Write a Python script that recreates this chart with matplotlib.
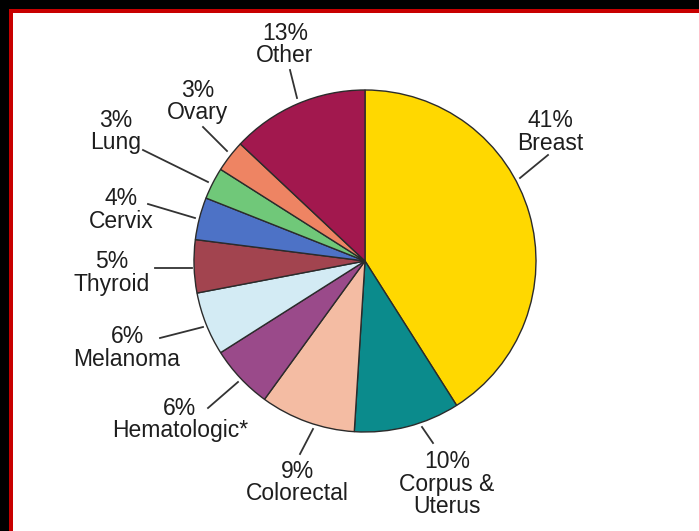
import matplotlib
matplotlib.use("Agg")
import matplotlib.pyplot as plt
from matplotlib.patches import Rectangle

# ---- data ----
categories = ["Breast", "Corpus &\nUterus", "Colorectal", "Hematologic*", "Melanoma",
              "Thyroid", "Cervix", "Lung", "Ovary", "Other"]
percents = [41, 10, 9, 6, 6, 5, 4, 3, 3, 13]
colors = ["#FFD800", "#0B8B8C", "#F4BCA3", "#9A4A8A", "#D3EBF4",
          "#A2444F", "#4D72C6", "#70C879", "#EE8463", "#A2184E"]

# ---- layout (image pixel coords, y downward) ----
W, H = 699, 531
cx, cy, R = 365, 261, 171
# label anchor: (center x, first baseline y)
label_pos = [(550, 127), (447, 468), (297, 478), (180, 415), (127, 343),
             (112, 268), (121, 205), (116, 127), (198, 97), (285, 40)]
# leader lines: (x0, y0, x1, y1)
leaders = [(548, 155, 520, 178), (433, 443, 422, 427), (300, 454, 313, 429),
           (208, 408, 238, 382), (160, 338, 203, 327), (155, 268, 192, 268),
           (148, 204, 195, 218), (143, 150, 208, 182), (203, 127, 227, 151),
           (290, 70, 297, 98)]
line_step = 22.5

def Y(y):
    return H - y

fig = plt.figure(figsize=(W / 100, H / 100), dpi=100, facecolor="black")
ax = fig.add_axes([0, 0, 1, 1])
ax.set_facecolor("black")

# red frame and white panel
ax.add_patch(Rectangle((9, 0), W, Y(9), facecolor="#C80000", edgecolor="none", zorder=0))
ax.add_patch(Rectangle((13, 0), W, Y(13), facecolor="white", edgecolor="none", zorder=0))

ax.pie(percents, colors=colors, startangle=90, counterclock=False,
       center=(cx, Y(cy)), radius=R, frame=True,
       wedgeprops=dict(edgecolor="#2b2b2b", linewidth=1.0))

font = dict(family=["Liberation Sans", "DejaVu Sans"], size=16.5, color="#1e1e1e")
for cat, pct, (lx, ly), (x0, y0, x1, y1) in zip(categories, percents, label_pos, leaders):
    lines = [f"{pct}%"] + cat.split("\n")
    for i, t in enumerate(lines):
        ax.text(lx, Y(ly + i * line_step), t, ha="center", va="baseline", **font)
    ax.plot([x0, x1], [Y(y0), Y(y1)], color="#333333", lw=1.3)

ax.set_xlim(0, W)
ax.set_ylim(0, H)
ax.set_aspect("auto")
ax.axis("off")
fig.savefig("out.png", dpi=100, facecolor="black")
